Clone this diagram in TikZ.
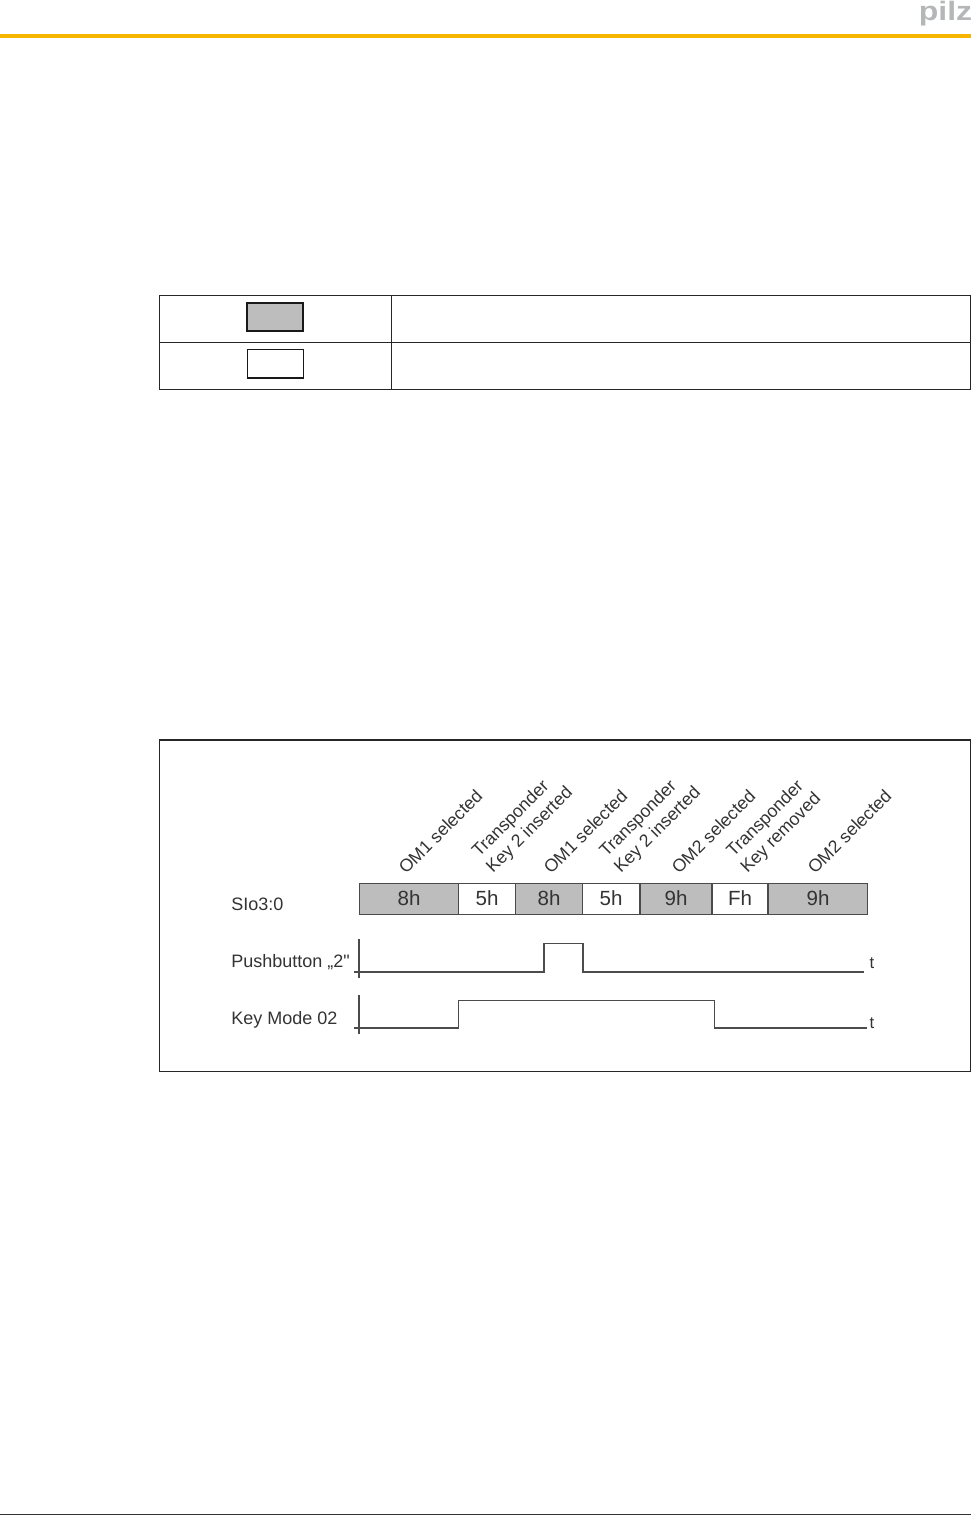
\documentclass[tikz,border=0pt]{standalone}
\usepackage{fontspec}
\setmainfont{Liberation Sans}
\definecolor{seg}{HTML}{BDBDBD}
\definecolor{ink}{HTML}{333333}
\definecolor{sig}{HTML}{4A4A4A}
\definecolor{pilzbar}{HTML}{F7B500}
\definecolor{pilzgray}{HTML}{B4B6B8}
\newcommand{\straightq}{{\addfontfeature{Mapping=}\symbol{34}}}
\tikzset{
  x=0.75pt,y=-0.75pt,
  frameline/.style={draw=black!85,line width=0.85pt},
  swatchbox/.style={draw=black!90,minimum width=42pt,minimum height=21.5pt,inner sep=0pt},
  segbox/.style={draw=sig,line width=1.15pt,minimum height=23.5pt,inner sep=0pt,text=ink,text height=10.5pt,text depth=1pt,font=\fontsize{15.4}{15.4}\selectfont},
  graybox/.style={segbox,fill=seg},
  whitebox/.style={segbox,fill=white},
  slant/.style={rotate=45,anchor=base west,inner sep=0pt,text=ink,font=\fontsize{13.3}{13.3}\selectfont},
  siglabel/.style={anchor=west,inner sep=0pt,text=ink,font=\fontsize{13.5}{13.5}\selectfont},
  axisline/.style={draw=sig,line width=0.9pt},
  trace/.style={draw=black!70,line width=0.85pt},
}
\begin{document}
\begin{tikzpicture}
\useasboundingbox (0,0) rectangle (971,1516);
% header
\fill[pilzbar] (0,34) rectangle (971,38);
\node[inner sep=0pt,anchor=base,xscale=1.2,transform shape,text=pilzgray,font=\fontsize{20}{20}\selectfont\bfseries] (logo) at (945.5,21) {pilz};
\draw[black!80,line width=0.8pt] (0,1514.5) -- (971,1514.5);
% legend table
\draw[frameline] (159.5,295.5) rectangle (970.5,389.5);
\draw[frameline] (159.5,342.5) -- (970.5,342.5);
\draw[frameline] (391.5,295.5) -- (391.5,389.5);
\node[swatchbox,fill=seg,line width=1.5pt] (sw1) at (275,317) {};
\node[swatchbox,fill=white,line width=1pt] (sw2) at (275.5,363.5) {};
% diagram frame
\draw[frameline] (159.5,740) rectangle (970.5,1071.5);
% segments
\node[graybox,minimum width=74.5pt] (s1) at (409,899) {8h};
\node[whitebox,minimum width=42.5pt] (s2) at (487,899) {5h};
\node[graybox,minimum width=50.5pt] (s3) at (549,899) {8h};
\node[whitebox,minimum width=42.5pt] (s4) at (611,899) {5h};
\node[graybox,minimum width=54pt] (s5) at (676,899) {9h};
\node[whitebox,minimum width=42pt] (s6) at (740,899) {Fh};
\node[graybox,minimum width=74.5pt] (s7) at (818,899) {9h};
% slanted labels
\node[slant] (l1) at (406,875) {OM1 selected};
\node[slant] (l2a) at (479,858) {Transponder};
\node[slant] (l2b) at (493,874) {Key 2 inserted};
\node[slant] (l3) at (551,875) {OM1 selected};
\node[slant] (l4a) at (606.5,858) {Transponder};
\node[slant] (l4b) at (621,874) {Key 2 inserted};
\node[slant] (l5) at (679,875) {OM2 selected};
\node[slant] (l6a) at (733.5,858) {Transponder};
\node[slant] (l6b) at (747.5,874) {Key removed};
\node[slant] (l7) at (815,875) {OM2 selected};
% signal labels
\node[siglabel] (n1) at (231,904) {SIo3:0};
\node[siglabel] (n2) at (231,962) {Pushbutton „2\straightq};
\node[siglabel] (n3) at (231,1020) {Key Mode 02};
\node[inner sep=0pt,text=ink,font=\fontsize{12.5}{12.5}\selectfont] (t1) at (872,963) {t};
\node[inner sep=0pt,text=ink,font=\fontsize{12.5}{12.5}\selectfont] (t2) at (872,1023) {t};
% axes
\draw[axisline] (359,939) -- (359,978);
\draw[axisline] (359,995) -- (359,1034);
\coordinate (a1) at (354,972);
\coordinate (a2) at (544,972);
\coordinate (a3) at (544,943.5);
\coordinate (a4) at (583,943.5);
\coordinate (a5) at (583,972);
\coordinate (a6) at (864,972);
\draw[trace] (a1) -- (a2) -- (a3) -- (a4) -- (a5) -- (a6);
\coordinate (b1) at (354,1028);
\coordinate (b2) at (458.5,1028);
\coordinate (b3) at (458.5,1000.5);
\coordinate (b4) at (714.5,1000.5);
\coordinate (b5) at (714.5,1028);
\coordinate (b6) at (867,1028);
\draw[trace] (b1) -- (b2) -- (b3) -- (b4) -- (b5) -- (b6);
\end{tikzpicture}
\end{document}
